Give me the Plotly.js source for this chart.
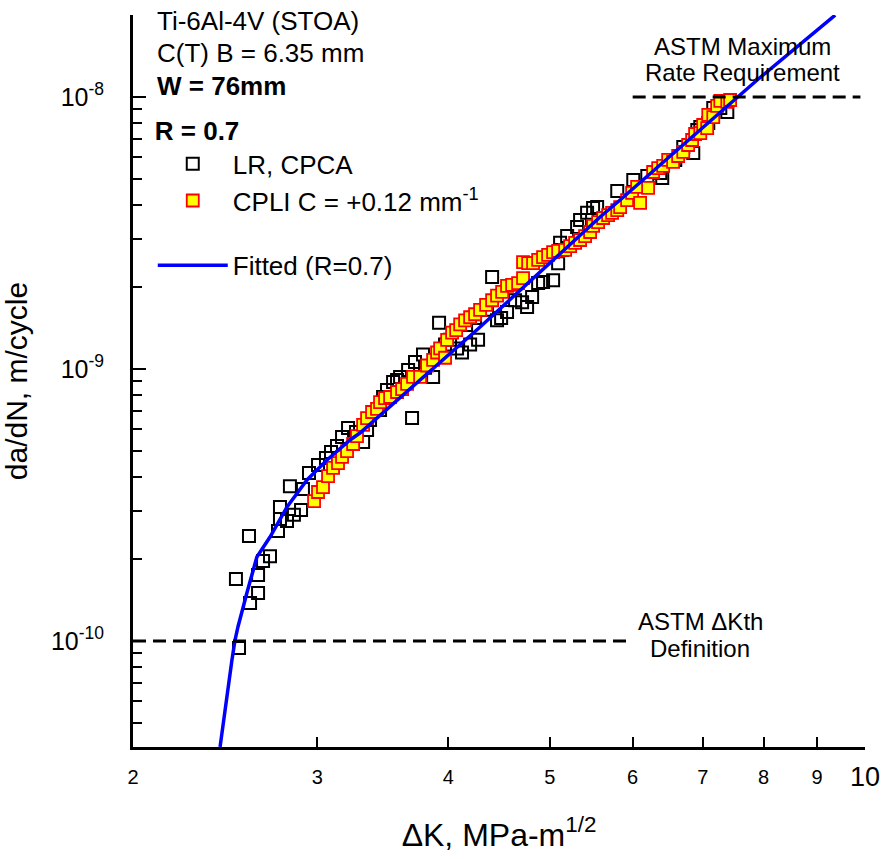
<!DOCTYPE html>
<html>
<head>
<meta charset="utf-8">
<script src="https://cdn.plot.ly/plotly-3.0.1.min.js"></script>
<style>
  html, body { margin: 0; padding: 0; background: #ffffff; }
  #chart { width: 884px; height: 859px; }
</style>
</head>
<body>
<div id="chart"></div>
<script>
// ---- Data ----
// LR, CPCA: Delta K (MPa-m^1/2) and da/dN (m/cycle)
const lrK = [2.525, 2.508, 2.587, 2.633, 2.633, 2.581, 2.662, 2.703, 2.751, 2.763,
  2.806, 2.763, 2.849, 2.894, 2.824, 2.906, 2.945, 3.004, 3.057, 3.091,
  3.132, 3.167, 3.209, 3.266, 3.317, 3.346, 3.368, 3.443, 3.466, 3.496,
  3.543, 3.574, 3.598, 3.694, 3.662, 3.718, 3.784, 3.801, 3.869, 3.920,
  3.972, 4.016, 4.078, 4.123, 4.197, 4.271, 4.160, 4.243, 4.356, 4.405,
  4.453, 4.493, 4.552, 4.633, 4.705, 4.757, 4.810, 4.874, 4.927, 5.037,
  5.093, 5.138, 5.115, 5.195, 5.310, 5.345, 5.428, 5.500, 5.549, 5.800,
  6.008, 6.196, 6.375, 6.403, 6.589, 6.706, 6.855, 6.916, 6.962, 7.085,
  7.163, 7.275, 7.388];
const lrRate = [9.43e-11, 1.69e-10, 1.38e-10, 1.50e-10, 1.75e-10, 2.43e-10, 1.97e-10, 2.05e-10, 2.54e-10, 2.81e-10,
  2.76e-10, 3.11e-10, 2.91e-10, 3.03e-10, 3.71e-10, 3.62e-10, 4.15e-10, 4.44e-10, 4.71e-10, 4.95e-10,
  5.21e-10, 5.62e-10, 6.07e-10, 5.87e-10, 5.39e-10, 5.97e-10, 6.49e-10, 7.07e-10, 7.89e-10, 8.37e-10,
  8.96e-10, 9.11e-10, 9.35e-10, 6.60e-10, 9.92e-10, 1.06e-9, 1.13e-9, 1.01e-9, 9.35e-10, 1.48e-9,
  1.23e-9, 1.28e-9, 1.19e-9, 1.15e-9, 1.23e-9, 1.28e-9, 1.45e-9, 1.54e-9, 1.65e-9, 2.18e-9,
  1.51e-9, 1.54e-9, 1.62e-9, 1.79e-9, 1.76e-9, 1.69e-9, 1.84e-9, 2.07e-9, 2.09e-9, 2.12e-9,
  2.45e-9, 2.74e-9, 2.91e-9, 3.08e-9, 3.33e-9, 3.53e-9, 3.75e-9, 3.91e-9, 3.94e-9, 4.51e-9,
  4.95e-9, 5.12e-9, 5.25e-9, 5.04e-9, 5.87e-9, 6.55e-9, 6.23e-9, 7.56e-9, 7.76e-9, 8.02e-9,
  9.11e-9, 9.11e-9, 8.81e-9];

// CPLI C = +0.12 mm^-1
const cpK = [2.978, 3.004, 3.037, 3.071, 3.105, 3.139, 3.167, 3.202, 3.245, 3.273,
  3.317, 3.346, 3.383, 3.420, 3.443, 3.481, 3.520, 3.574, 3.614, 3.654,
  3.702, 3.760, 3.818, 3.869, 3.903, 3.929, 3.972, 3.990, 4.034, 4.070,
  4.106, 4.151, 4.197, 4.243, 4.290, 4.347, 4.405, 4.453, 4.503, 4.552,
  4.603, 4.664, 4.715, 4.715, 4.768, 4.820, 4.874, 4.927, 4.982, 5.037,
  5.093, 5.172, 5.229, 5.287, 5.345, 5.404, 5.464, 5.500, 5.561, 5.623,
  5.685, 5.735, 5.800, 5.837, 5.927, 5.993, 6.059, 6.099, 6.207, 6.276,
  6.346, 6.416, 6.487, 6.558, 6.631, 6.706, 6.778, 6.838, 6.883, 6.962,
  7.006, 7.068, 7.085, 7.163, 7.225, 7.275, 7.388, 7.434];
const cpRate = [3.27e-10, 3.53e-10, 3.68e-10, 4.04e-10, 4.33e-10, 4.51e-10, 4.75e-10, 4.99e-10, 5.30e-10, 5.67e-10,
  6.23e-10, 6.60e-10, 6.95e-10, 7.13e-10, 7.56e-10, 7.82e-10, 7.89e-10, 8.23e-10, 8.44e-10, 8.81e-10,
  9.35e-10, 9.35e-10, 1.03e-9, 1.08e-9, 1.15e-9, 1.19e-9, 1.10e-9, 1.28e-9, 1.36e-9, 1.39e-9,
  1.46e-9, 1.51e-9, 1.55e-9, 1.59e-9, 1.65e-9, 1.72e-9, 1.79e-9, 1.86e-9, 1.92e-9, 2.02e-9,
  2.04e-9, 2.07e-9, 2.16e-9, 2.47e-9, 2.45e-9, 2.45e-9, 2.52e-9, 2.58e-9, 2.63e-9, 2.69e-9,
  2.72e-9, 2.74e-9, 2.83e-9, 2.91e-9, 2.98e-9, 3.08e-9, 3.19e-9, 3.36e-9, 3.47e-9, 3.59e-9,
  3.68e-9, 3.75e-9, 3.84e-9, 3.94e-9, 4.18e-9, 4.44e-9, 4.67e-9, 4.08e-9, 4.63e-9, 5.30e-9,
  5.48e-9, 5.58e-9, 5.87e-9, 5.77e-9, 6.07e-9, 6.28e-9, 6.66e-9, 6.95e-9, 7.31e-9, 7.37e-9,
  7.89e-9, 7.69e-9, 8.59e-9, 8.44e-9, 9.27e-9, 9.67e-9, 9.59e-9, 9.75e-9];

// Fitted curve (R = 0.7)
const fitK = [2.422, 2.455, 2.486, 2.503, 2.519, 2.569, 2.626, 2.703, 2.806, 2.932,
  3.064, 3.223, 3.294, 4.290, 5.585, 5.836, 7.889, 9.365];
const fitRate = [4.08e-11, 6.07e-11, 8.51e-11, 1.008e-10, 1.126e-10, 1.501e-10, 2.036e-10, 2.412e-10, 3.109e-10, 3.907e-10,
  4.627e-10, 5.483e-10, 5.817e-10, 1.427e-9, 3.620e-9, 4.181e-9, 1.155e-8, 2.0e-8];

// ASTM reference levels
const maxRateK = [6.0, 9.9];
const maxRateLevel = [1e-8, 1e-8];
const thresholdK = [2.0, 6.0];
const thresholdLevel = [1e-10, 1e-10];

// Axis ticks
const xTickVals = [2, 3, 4, 5, 6, 7, 8, 9];
const xTickText = ['2', '3', '4', '5', '6', '7', '8', '9'];
const xEndTick = [10];
const yTickVals = [1e-10, 1e-9, 1e-8];
const yTickText = ['10<sup>-10</sup>', '10<sup>-9</sup>', '10<sup>-8</sup>'];
const yMinorVals = [5e-11, 6e-11, 7e-11, 8e-11, 9e-11,
  2e-10, 3e-10, 4e-10, 5e-10, 6e-10, 7e-10, 8e-10, 9e-10,
  2e-9, 3e-9, 4e-9, 5e-9, 6e-9, 7e-9, 8e-9, 9e-9, 2e-8];

// ---- Figure ----
const FONT = 'Liberation Sans, Arial, Helvetica, sans-serif';

const traces = [
  {
    x: lrK, y: lrRate, type: 'scatter', mode: 'markers',
    name: 'LR, CPCA', legendgroup: 'data',
    marker: { symbol: 'square-open', size: 12, color: '#000000', line: { width: 2, color: '#000000' } }
  },
  {
    x: cpK, y: cpRate, type: 'scatter', mode: 'markers',
    name: 'CPLI C = +0.12 mm<sup>-1</sup>', legendgroup: 'data',
    marker: { symbol: 'square', size: 12, color: '#FFFF00', line: { width: 1.8, color: '#FF0000' } }
  },
  {
    x: fitK, y: fitRate, type: 'scatter', mode: 'lines',
    name: 'Fitted (R=0.7)', legendgroup: 'fit',
    line: { color: '#0000FF', width: 3.5 }
  },
  {
    x: maxRateK, y: maxRateLevel, type: 'scatter', mode: 'lines', showlegend: false,
    line: { color: '#000000', width: 3, dash: '13px,7px' }, hoverinfo: 'skip'
  },
  {
    x: thresholdK, y: thresholdLevel, type: 'scatter', mode: 'lines', showlegend: false,
    line: { color: '#000000', width: 3, dash: '13px,7px' }, hoverinfo: 'skip'
  }
];

function ann(text, x, y, size, xanchor) {
  return {
    xref: 'paper', yref: 'paper', x: x, y: y, xanchor: xanchor || 'center', yanchor: 'middle',
    align: 'left', showarrow: false, font: { family: FONT, size: size, color: '#000000' }, text: text
  };
}

const layout = {
  width: 884, height: 859,
  margin: { l: 133, r: 19, t: 15, b: 112, pad: 0 },
  paper_bgcolor: '#ffffff', plot_bgcolor: '#ffffff',
  font: { family: FONT, color: '#000000', size: 20 },
  showlegend: true,
  legend: {
    x: 0.027, y: 0.875, xanchor: 'left', yanchor: 'top',
    bgcolor: 'rgba(0,0,0,0)', borderwidth: 0,
    font: { family: FONT, size: 26, color: '#000000' },
    title: { text: '<b>R = 0.7</b>', font: { family: FONT, size: 26, color: '#000000' } },
    traceorder: 'grouped', tracegroupgap: 28, itemwidth: 70
  },
  xaxis: {
    type: 'log', range: [Math.log10(2), 1], autorange: false,
    showline: true, linewidth: 3, linecolor: '#000000', mirror: false,
    showgrid: false, zeroline: false,
    ticks: 'inside', ticklen: 10, tickwidth: 2, tickcolor: '#000000',
    tickmode: 'array', tickvals: xTickVals, ticktext: xTickText,
    tickfont: { family: FONT, size: 20, color: '#000000' },
    ticklabelstandoff: 10,
    minor: { tickmode: 'array', tickvals: xEndTick, ticks: 'inside', ticklen: 14, tickwidth: 2, tickcolor: '#000000', showgrid: false },
    title: { text: '\u0394K, MPa-m<sup>1/2</sup>', font: { family: FONT, size: 32, color: '#000000' }, standoff: 37 }
  },
  yaxis: {
    type: 'log', range: [-10.3897, -7.6985], autorange: false,
    showline: true, linewidth: 3, linecolor: '#000000', mirror: false,
    showgrid: false, zeroline: false,
    ticks: 'inside', ticklen: 13, tickwidth: 2, tickcolor: '#000000',
    tickmode: 'array', tickvals: yTickVals, ticktext: yTickText,
    tickfont: { family: FONT, size: 25, color: '#000000' },
    ticklabelstandoff: 21,
    minor: { tickmode: 'array', tickvals: yMinorVals, ticks: 'inside', ticklen: 9, tickwidth: 2, tickcolor: '#000000', showgrid: false },
    title: { text: 'da/dN, m/cycle', font: { family: FONT, size: 30, color: '#000000' }, standoff: 20 }
  },
  annotations: [
    ann('Ti-6Al-4V (STOA)', 0.0301, 0.9918, 26, 'left'),
    ann('C(T) B = 6.35 mm', 0.0301, 0.9481, 26, 'left'),
    ann('<b>W = 76mm</b>', 0.0301, 0.9030, 26, 'left'),
    ann('ASTM Maximum', 0.8333, 0.9563, 24),
    ann('Rate Requirement', 0.8333, 0.9208, 24),
    ann('ASTM \u0394Kth', 0.7746, 0.1708, 24),
    ann('Definition', 0.7746, 0.1352, 24),
    ann('10', 1.0, -0.041, 27)
  ]
};

Plotly.newPlot('chart', traces, layout, { displayModeBar: false, staticPlot: true });
</script>
</body>
</html>
